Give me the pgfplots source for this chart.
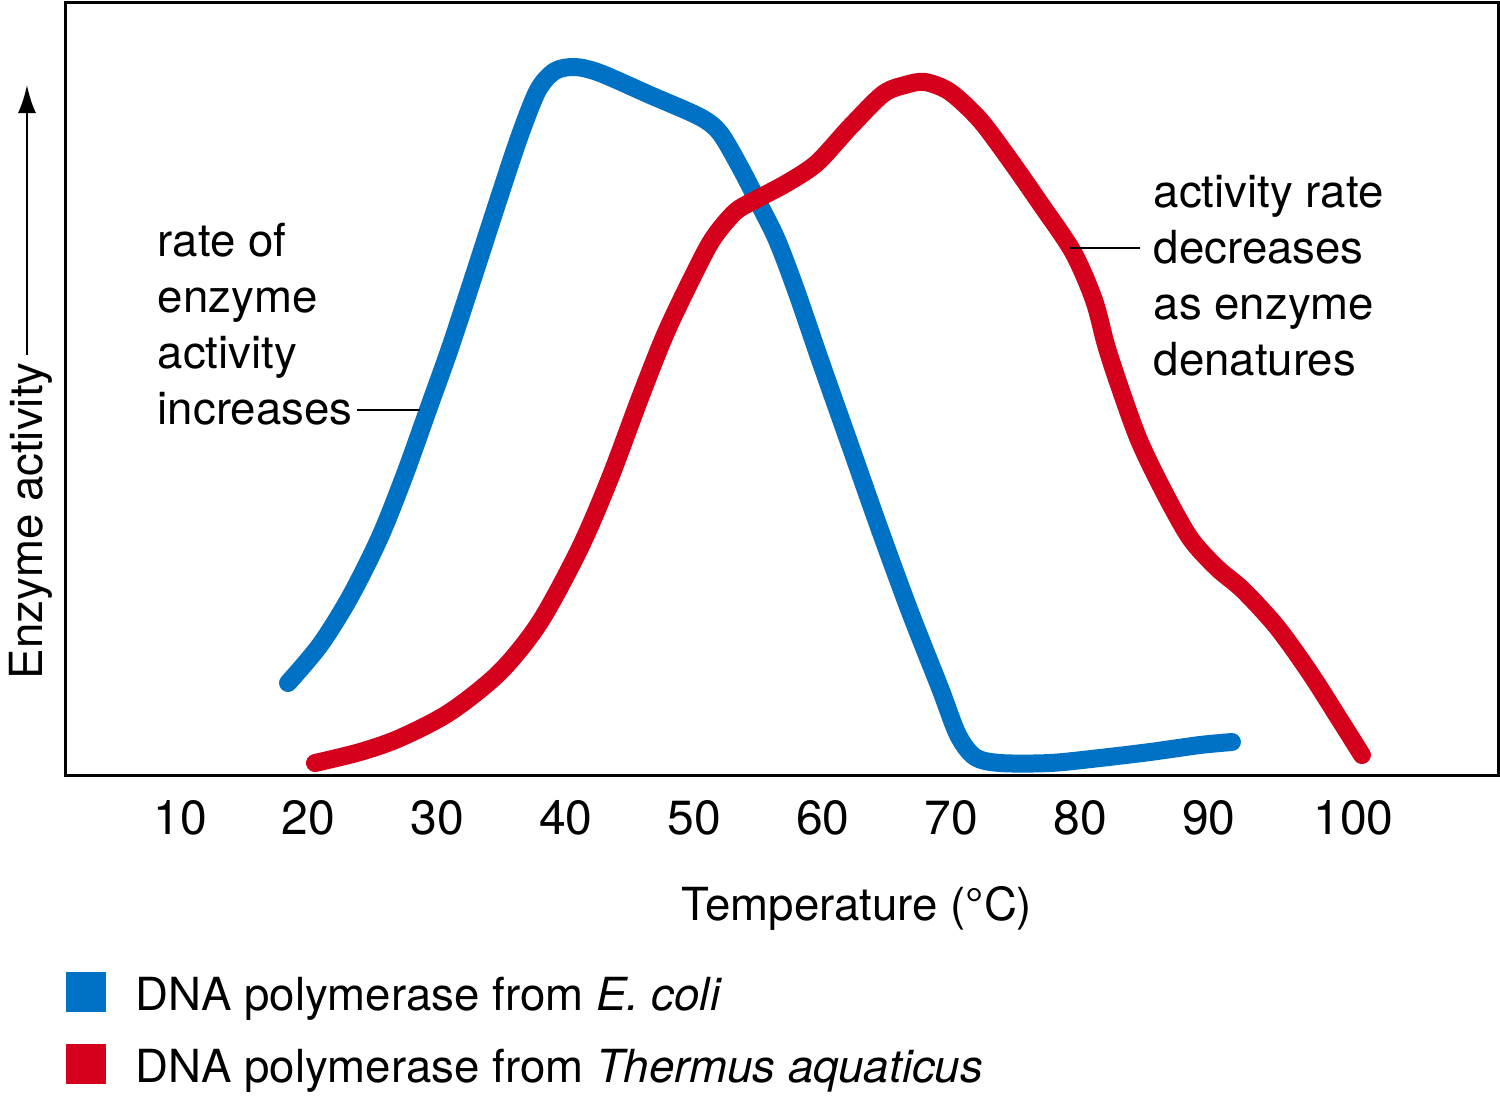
\documentclass[border=0pt]{standalone}
\usepackage{pgfplots}
\pgfplotsset{compat=1.18}
\usepackage{fontspec}
\setmainfont{TeX Gyre Heros}
\usetikzlibrary{arrows.meta}
\definecolor{ecoli}{RGB}{0,114,198}
\definecolor{taq}{RGB}{213,0,28}
\begin{document}
\fontsize{11.4}{14}\selectfont
\begin{tikzpicture}
\useasboundingbox (-16.5pt,-80pt) rectangle (358.5pt,193.75pt);
\begin{axis}[
  at={(0pt,0pt)}, anchor=south west,
  width=358pt, height=193.25pt, scale only axis,
  xmin=1.135, xmax=112.49, ymin=0, ymax=773,
  axis line style={line width=0.75pt},
  ytick=\empty,
  xtick={10,20,30,40,50,60,70,80,90,101.25},
  xticklabels={10,20,30,40,50,60,70,80,90,100},
  major tick length=0pt,
  xticklabel style={anchor=center, yshift=-10.75pt, inner sep=0pt, font=\fontsize{12}{14}\selectfont},
  clip=false,
  legend style={at={(axis cs:1.135,-195)}, anchor=north west, draw=none, fill=none,
    inner sep=0pt, outer sep=0pt, row sep=5pt, column sep=7.5pt,
    font=\fontsize{11.4}{14}\selectfont,
    nodes={inner sep=0pt, text height=10pt, text depth=3pt}},
  legend cell align=left,
  legend image code/.code={\fill[#1, draw=none] (0pt,-3.9pt) rectangle (10pt,6.1pt);},
]
\addplot[color=ecoli, line width=4.5pt, line cap=round, line join=round, smooth] coordinates {
(18.40,92) (20.89,130) (23.22,178) (25.55,238) (27.50,301) (29.28,365) (31.00,427)
(32.94,503) (34.88,580) (36.44,640) (37.84,685) (39.16,704) (40.72,708) (42.66,702)
(46.55,680) (50.44,658) (51.99,642) (53.55,608) (54.87,575) (56.42,535) (57.98,482)
(59.77,415) (62.10,330) (64.43,245) (66.77,163) (69.10,87) (70.50,40) (71.82,18)
(73.76,12) (77.65,12) (81.54,17) (85.43,23) (89.32,30) (91.80,33)
};
\addlegendentry{DNA polymerase from \textit{E. coli}}
\addplot[color=taq, line width=4.5pt, line cap=round, line join=round, smooth] coordinates {
(20.50,12) (24.00,23) (27.11,37) (31.00,63) (34.88,103) (37.99,153) (41.10,227)
(43.44,297) (45.77,377) (47.71,440) (49.66,493) (51.37,535) (53.16,563) (54.87,576)
(57.20,592) (59.53,612) (62.10,648) (64.67,681) (66.38,690) (67.93,693) (69.88,683)
(72.21,655) (74.54,615) (76.87,572) (79.44,523) (81.07,475) (82.01,430) (83.02,390)
(84.57,335) (86.44,285) (88.54,237) (90.64,207) (92.66,185) (95.30,148) (97.87,102)
(100.20,55) (101.91,20)
};
\addlegendentry{DNA polymerase from \textit{Thermus aquaticus}}
% annotations
\node[anchor=base west, inner sep=0pt] at (axis cs:8.21,519) {rate of};
\node[anchor=base west, inner sep=0pt] at (axis cs:8.21,463) {enzyme};
\node[anchor=base west, inner sep=0pt] at (axis cs:8.21,407) {activity};
\node[anchor=base west, inner sep=0pt] at (axis cs:8.21,351) {increases};
\draw[line width=0.6pt] (axis cs:23.76,365) -- (axis cs:28.66,365);
\node[anchor=base west, inner sep=0pt] at (axis cs:85.66,568) {activity rate};
\node[anchor=base west, inner sep=0pt] at (axis cs:85.66,512) {decreases};
\node[anchor=base west, inner sep=0pt] at (axis cs:85.66,456) {as enzyme};
\node[anchor=base west, inner sep=0pt] at (axis cs:85.66,400) {denatures};
\draw[line width=0.6pt] (axis cs:79.10,527) -- (axis cs:84.65,527);
% axis labels
\node[inner sep=0pt] at (axis cs:62.64,-133) {Temperature (°C)};
\node[anchor=base west, rotate=90, inner sep=0pt] at (axis cs:-0.73,95) {Enzyme activity};
\draw[line width=0.6pt, -{Latex[length=7pt,width=4.5pt]}] (axis cs:-1.90,420) -- (axis cs:-1.90,690);
\end{axis}
\end{tikzpicture}
\end{document}
